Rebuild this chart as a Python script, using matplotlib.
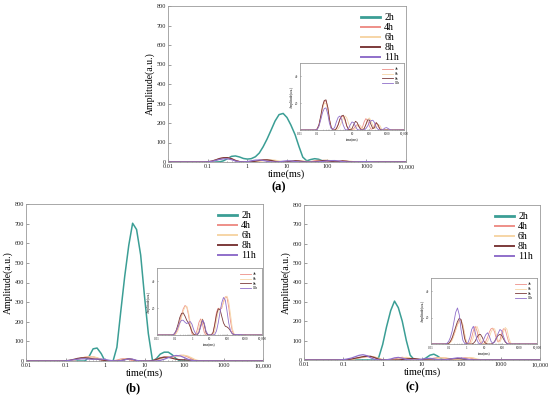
import matplotlib
matplotlib.use("Agg")
import matplotlib.pyplot as plt
from matplotlib.ticker import FixedLocator, FixedFormatter, LogLocator, NullFormatter

plt.rcParams["font.family"] = ["Liberation Serif", "DejaVu Serif"]

# time grid (ms), shared by every series
TIME_MS = [0.01, 0.04, 0.05, 0.063, 0.08,
           0.1, 0.125, 0.16, 0.2, 0.25, 0.315, 0.4, 0.5, 0.63, 0.8,
           1, 1.25, 1.6, 2, 2.5, 3.15, 4, 5, 6.3, 8,
           10, 12.5, 16, 20, 25, 31.5, 40, 50, 63, 80,
           100, 125, 160, 200, 250, 315, 400, 500, 630, 800,
           1000, 1250, 1600, 2000, 2500, 10000]

LABELS = ["2h", "4h", "6h", "8h", "11h"]
COLORS = ["#3b9e95", "#ee8f88", "#f6d5a6", "#7c3a3a", "#8f6fca"]

# panel (a)
A_2H = [0, 0, 0, 0, 0,
        0, 0, 0, 1, 6, 17, 29, 31, 26, 18,
        15, 17, 27, 46, 78, 118, 165, 210, 243, 249,
        228, 190, 140, 80, 25, 6, 13, 17, 14, 5,
        0, 0, 0, 0, 0, 0, 0, 0, 0, 0,
        0, 0, 0, 0, 0, 0]
A_4H = [0, 0, 0, 0, 0,
        1, 4, 10, 17, 21, 22, 17, 8, 2, 0,
        0, 1, 4, 8, 10, 10, 7, 3, 0.5, 0,
        0, 1, 3, 4, 3, 1, 2, 6, 8.5, 7,
        3, 0.5, 1, 4, 5.5, 3, 0.5, 0, 0, 0,
        0, 0, 0, 0, 0, 0]
A_6H = [0, 0, 0, 0, 0,
        0.5, 3, 9, 16, 20, 20, 15, 7, 2, 0,
        0, 0, 1, 3, 6, 9, 10.5, 9, 5, 1.5,
        0, 0, 1, 3, 4, 3, 1, 1, 4, 8,
        9, 7, 3, 1, 2, 4, 3.5, 1, 0, 0,
        0, 0, 0, 0, 0, 0]
A_8H = [0, 0, 0, 0, 0,
        1, 4, 11, 18, 22, 22.5, 17, 8, 2, 0,
        0, 1, 4, 8, 10.5, 11, 8, 3, 0.5, 0,
        1, 4, 6.5, 5.5, 2.5, 0.5, 0, 1, 4, 7.5,
        7.5, 4, 1, 2, 5.5, 4, 1, 0, 0, 0,
        0, 0, 0, 0, 0, 0]
A_11H = [0, 0, 0, 0, 0,
         0.5, 3, 8, 13, 16, 16.5, 12, 5, 1, 0.5,
         2, 6, 9.5, 10.4, 8, 3.5, 0.5, 0, 1, 4,
         6, 5.5, 2.5, 0.5, 0, 0, 0, 0, 1, 3,
         5.5, 7, 7.3, 5.5, 2, 0.5, 0, 0, 0.5, 1.5,
         1.8, 1, 0.2, 0, 0, 0]

# panel (b)
B_2H = [0, 0, 0, 0, 0,
        0, 0, 0, 0, 0, 0, 25, 62, 66, 38,
        0, 0, 0, 70, 250, 430, 590, 702, 670, 540,
        330, 140, 0, 12, 35, 45, 45, 32, 12, 0,
        0, 0, 0, 0, 0, 0, 0, 0, 0, 0,
        0, 0, 0, 0, 0, 0]
B_4H = [0, 0, 0, 0, 0,
        0.5, 2, 5, 10, 15, 19.5, 22, 21, 15, 6,
        1, 0, 0.5, 4, 9.5, 12, 8, 2, 0, 0,
        0, 0, 1, 8, 17, 20, 19, 20, 25, 28.5,
        28, 21, 10, 3, 0.5, 0, 0, 0, 0, 0,
        0, 0, 0, 0, 0, 0]
B_6H = [0, 0, 0, 0, 0,
        0, 1, 3.5, 8, 13, 18, 21, 21.5, 17, 9,
        2.5, 0, 0, 1, 5, 10, 12, 7, 1.5, 0,
        0, 0, 0, 3, 11, 18, 20, 21, 24, 28,
        29, 25, 15, 5, 1, 0, 0, 0, 0, 0,
        0, 0, 0, 0, 0, 0]
B_8H = [0, 0, 0, 0, 0,
        1, 3.5, 8, 13, 16, 16.5, 14, 11, 9, 6,
        2.5, 0.5, 0, 0, 2, 7, 11.5, 8, 2, 0,
        0, 0, 2, 8, 15, 19.5, 19, 14, 9, 6.5,
        6, 5, 3, 1, 0.3, 0, 0, 0, 0, 0,
        0, 0, 0, 0, 0, 0]
B_11H = [0, 0, 0, 0, 0,
         1, 3, 6, 9, 11, 11, 9.5, 8.5, 9.5, 10,
         8, 4, 1, 0.5, 2, 6, 11, 9, 3, 0.5,
         0, 0, 0, 0.5, 3, 9, 17, 24, 28, 26,
         18, 9, 3, 1, 0.5, 0.3, 0.3, 0.3, 0.2, 0.1,
         0, 0, 0, 0, 0, 0]

# panel (c)
C_2H = [0, 0, 0, 0, 0,
        0, 0, 0, 0, 0, 0, 0, 0, 0, 15,
        80, 170, 255, 304, 270, 200, 100, 25, 2, 0,
        0, 10, 25, 30, 20, 5, 0, 0, 0, 0,
        0, 0, 0, 0, 0, 0, 0, 0, 0, 0,
        0, 0, 0, 0, 0, 0]
C_4H = [0, 0, 0, 0, 0,
        0.5, 1.5, 4, 7.5, 11, 15, 17.5, 18.3, 14, 6,
        1, 0, 1, 5, 10, 13.4, 10, 4, 1, 0,
        0.5, 2, 5, 9, 11.5, 12, 9, 4, 1.5, 3,
        8, 11.5, 11, 6, 1.5, 0, 0, 0, 0, 0,
        0, 0, 0, 0, 0, 0]
C_6H = [0, 0, 0, 0, 0,
        0.3, 1, 3, 6.5, 10.5, 14.5, 17, 18, 15, 8,
        2, 0, 0, 1.5, 5, 10, 13.4, 10, 3.5, 0.5,
        0, 0.5, 2, 5, 9, 11.5, 11.5, 7, 2.5, 1.5,
        4.5, 9, 12.5, 11, 5, 1, 0, 0, 0, 0,
        0, 0, 0, 0, 0, 0]
C_8H = [0, 0, 0, 0, 0,
        0.5, 2, 5, 9, 13, 17, 19.5, 18.5, 12, 4,
        0.5, 0, 0, 0, 0.5, 2, 5, 7, 7.3, 5,
        2, 0.5, 0, 0, 0, 0.5, 2, 4.5, 6.5, 7.3,
        6.5, 4, 1.5, 0.3, 0, 0, 0, 0, 0, 0,
        0, 0, 0, 0, 0, 0]
C_11H = [0, 0, 0, 0, 0.5,
         2, 5, 10, 17, 24, 27.3, 22, 11, 3, 0.5,
         0, 1, 5, 11, 13.4, 9, 3, 0.5, 0, 1,
         4, 7, 8.5, 6, 2, 0.5, 1.5, 4.5, 8, 11,
         10, 6, 2, 0.5, 0, 0, 0, 0, 0, 0,
         0, 0, 0, 0, 0, 0]

X_TICKS = [0.01, 0.1, 1, 10, 100, 1000, 10000]
X_TICK_LABELS = ["0.01", "0.1", "1", "10", "100", "1000", "10,000"]
Y_TICKS = [0, 100, 200, 300, 400, 500, 600, 700, 800]
INSET_Y_TICKS = [0, 20, 40]

SPINE = "#9a9a9a"


def style_log_x(ax, size):
    ax.set_xscale("log")
    ax.set_xlim(0.01, 10000)
    ax.xaxis.set_major_locator(FixedLocator(X_TICKS))
    ax.xaxis.set_major_formatter(FixedFormatter(X_TICK_LABELS))
    ax.xaxis.set_minor_locator(LogLocator(base=10, subs=range(2, 10), numticks=20))
    ax.xaxis.set_minor_formatter(NullFormatter())
    for s in ax.spines.values():
        s.set_color(SPINE)
        s.set_linewidth(0.6)
    ax.tick_params(which="both", direction="in", colors="#555555",
                   labelcolor="#222222", labelsize=size, width=0.4, pad=1.5)
    ax.tick_params(which="major", length=2)
    ax.tick_params(which="minor", length=1)


def draw_panel(fig, rect, inset_rect, series, tag, tag_xy):
    ax = fig.add_axes(rect)
    for i, (lab, col, vals) in enumerate(zip(LABELS, COLORS, series)):
        ax.plot(TIME_MS, vals, color=col, lw=1.1 if i == 0 else 0.9, label=lab)
    style_log_x(ax, 4.5)
    ax.set_ylim(0, 800)
    ax.set_yticks(Y_TICKS)
    ax.set_xlabel("time(ms)", fontsize=7.5, labelpad=0)
    ax.set_ylabel("Amplitude(a.u.)", fontsize=7, labelpad=1)
    leg = ax.legend(loc="upper right", frameon=False, fontsize=7.2,
                    handlelength=1.9, handletextpad=0.4, labelspacing=0.1,
                    borderaxespad=0.3)
    for i, line in enumerate(leg.get_lines()):
        line.set_linewidth(2.0 if i == 0 else 1.4)

    ins = fig.add_axes(inset_rect)
    for lab, col, vals in zip(LABELS[1:], COLORS[1:], series[1:]):
        ins.plot(TIME_MS, vals, color=col, lw=0.6, label=lab)
    style_log_x(ins, 2.3)
    ins.tick_params(which="major", length=1)
    ins.tick_params(which="minor", length=0.5)
    ins.set_ylim(0, 50)
    ins.set_yticks(INSET_Y_TICKS)
    ins.set_yticklabels(["", "20", "40"])
    ins.set_xlabel("time(ms)", fontsize=2.5, labelpad=0.5)
    ins.set_ylabel("Amplitude(a.u.)", fontsize=2.5, labelpad=0.5)
    ins.legend(loc="upper right", frameon=False, fontsize=2.5, handlelength=3,
               handletextpad=0.6, labelspacing=0.2, borderaxespad=0.8)

    fig.text(tag_xy[0] / 550, 1 - tag_xy[1] / 399, tag, fontsize=9,
             fontweight="bold", ha="center", va="center")


def main():
    fig = plt.figure(figsize=(5.5, 3.99), dpi=100)
    draw_panel(fig, [168 / 550, 1 - 162 / 399, 238 / 550, 156 / 399],
               [300 / 550, 1 - 130 / 399, 104 / 550, 67 / 399],
               [A_2H, A_4H, A_6H, A_8H, A_11H], "(a)", (279, 187))
    draw_panel(fig, [26 / 550, 1 - 361 / 399, 237 / 550, 157 / 399],
               [157 / 550, 1 - 335 / 399, 105 / 550, 67 / 399],
               [B_2H, B_4H, B_6H, B_8H, B_11H], "(b)", (133, 388))
    draw_panel(fig, [304 / 550, 1 - 360 / 399, 236 / 550, 155 / 399],
               [431 / 550, 1 - 344 / 399, 106 / 550, 66 / 399],
               [C_2H, C_4H, C_6H, C_8H, C_11H], "(c)", (412, 387))
    fig.savefig("out.png", dpi=100, facecolor="white")
    plt.close(fig)


if __name__ == "__main__":
    main()
